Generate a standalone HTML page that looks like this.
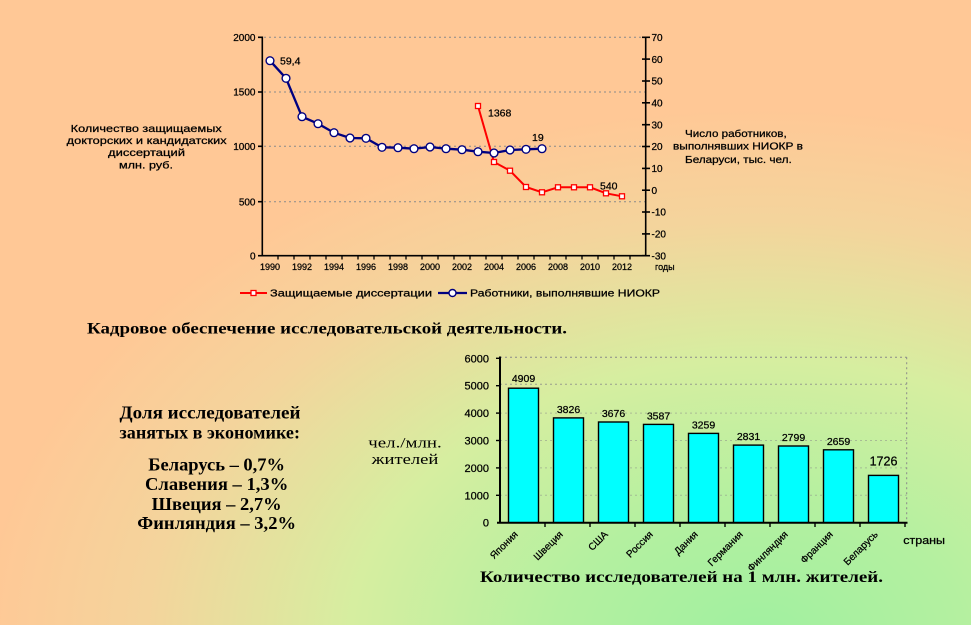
<!DOCTYPE html>
<html>
<head>
<meta charset="utf-8">
<style>
html,body{margin:0;padding:0;}
body{width:971px;height:625px;overflow:hidden;
background:#ffc896;}
#bg{position:absolute;left:0;top:0;width:971px;height:625px;
background:
radial-gradient(ellipse 820px 560px at 760px 640px, #a0f0a0 0%, #b4f0a0 25%, #d6eea0 50%, #f4d49c 75%, rgba(255,200,150,0) 95%),
#ffc896;}
svg{position:absolute;left:0;top:0;}
text{font-family:"Liberation Sans","Noto Sans CJK SC",sans-serif;fill:#000;}
.sans{stroke:#000;stroke-width:0.25;}
.serif{font-family:"Liberation Serif","Noto Serif CJK SC",serif;}
</style>
</head>
<body>
<div id="bg"></div>
<svg width="971" height="625" viewBox="0 0 971 625" xmlns="http://www.w3.org/2000/svg">
<!-- ===== TOP CHART ===== -->
<g stroke="#8a8a8a" stroke-width="1" stroke-dasharray="2,3">
  <line x1="264" y1="37.3" x2="645" y2="37.3"/>
  <line x1="264" y1="92" x2="645" y2="92"/>
  <line x1="264" y1="146.3" x2="645" y2="146.3"/>
  <line x1="264" y1="201.7" x2="645" y2="201.7"/>
</g>
<g stroke="#000" stroke-width="1.6" fill="none">
  <line x1="262.3" y1="36.5" x2="262.3" y2="256.5"/>
  <line x1="645.7" y1="36.5" x2="645.7" y2="256.5"/>
  <line x1="261.5" y1="255.7" x2="646.5" y2="255.7"/>
  <line x1="258" y1="37.3" x2="262" y2="37.3"/>
  <line x1="258" y1="92" x2="262" y2="92"/>
  <line x1="258" y1="146.3" x2="262" y2="146.3"/>
  <line x1="258" y1="201.7" x2="262" y2="201.7"/>
  <line x1="258" y1="255.7" x2="262" y2="255.7"/>
  <line x1="642" y1="37.3" x2="650" y2="37.3"/>
  <line x1="642" y1="59.1" x2="650" y2="59.1"/>
  <line x1="642" y1="81" x2="650" y2="81"/>
  <line x1="642" y1="102.8" x2="650" y2="102.8"/>
  <line x1="642" y1="124.7" x2="650" y2="124.7"/>
  <line x1="642" y1="146.5" x2="650" y2="146.5"/>
  <line x1="642" y1="168.4" x2="650" y2="168.4"/>
  <line x1="642" y1="190.2" x2="650" y2="190.2"/>
  <line x1="642" y1="212" x2="650" y2="212"/>
  <line x1="642" y1="233.9" x2="650" y2="233.9"/>
  <line x1="642" y1="255.7" x2="650" y2="255.7"/>
</g>
<g stroke="#000" stroke-width="1.3">
  <line x1="278" y1="256" x2="278" y2="259.5"/><line x1="294" y1="256" x2="294" y2="259.5"/>
  <line x1="310" y1="256" x2="310" y2="259.5"/><line x1="326" y1="256" x2="326" y2="259.5"/>
  <line x1="342" y1="256" x2="342" y2="259.5"/><line x1="358" y1="256" x2="358" y2="259.5"/>
  <line x1="374" y1="256" x2="374" y2="259.5"/><line x1="390" y1="256" x2="390" y2="259.5"/>
  <line x1="406" y1="256" x2="406" y2="259.5"/><line x1="422" y1="256" x2="422" y2="259.5"/>
  <line x1="438" y1="256" x2="438" y2="259.5"/><line x1="454" y1="256" x2="454" y2="259.5"/>
  <line x1="470" y1="256" x2="470" y2="259.5"/><line x1="486" y1="256" x2="486" y2="259.5"/>
  <line x1="502" y1="256" x2="502" y2="259.5"/><line x1="518" y1="256" x2="518" y2="259.5"/>
  <line x1="534" y1="256" x2="534" y2="259.5"/><line x1="550" y1="256" x2="550" y2="259.5"/>
  <line x1="566" y1="256" x2="566" y2="259.5"/><line x1="582" y1="256" x2="582" y2="259.5"/>
  <line x1="598" y1="256" x2="598" y2="259.5"/><line x1="614" y1="256" x2="614" y2="259.5"/>
  <line x1="630" y1="256" x2="630" y2="259.5"/>
</g>
<g class="sans" font-size="10" text-anchor="end">
  <text x="255.5" y="41">2000</text>
  <text x="255.5" y="95.7">1500</text>
  <text x="255.5" y="150">1000</text>
  <text x="255.5" y="205.4">500</text>
  <text x="255.5" y="259.4">0</text>
</g>
<g class="sans" font-size="10">
  <text x="651.5" y="41">70</text>
  <text x="651.5" y="62.8">60</text>
  <text x="651.5" y="84.7">50</text>
  <text x="651.5" y="106.5">40</text>
  <text x="651.5" y="128.4">30</text>
  <text x="651.5" y="150.2">20</text>
  <text x="651.5" y="172.1">10</text>
  <text x="651.5" y="193.9">0</text>
  <text x="651.5" y="215.7">-10</text>
  <text x="651.5" y="237.6">-20</text>
  <text x="651.5" y="259.4">-30</text>
</g>
<g class="sans" font-size="9" text-anchor="middle">
  <text x="270" y="270">1990</text><text x="302" y="270">1992</text>
  <text x="334" y="270">1994</text><text x="366" y="270">1996</text>
  <text x="398" y="270">1998</text><text x="430" y="270">2000</text>
  <text x="462" y="270">2002</text><text x="494" y="270">2004</text>
  <text x="526" y="270">2006</text><text x="558" y="270">2008</text>
  <text x="590" y="270">2010</text><text x="622" y="270">2012</text>
</g>
<text class="sans" x="655" y="270" font-size="9">годы</text>

<polyline fill="none" stroke="#ff0000" stroke-width="2" points="478,106 494,162 510,170.7 526,187 542,192.3 558,187.3 574,187.3 590,187.3 606,193.3 622,196.3"/>
<g fill="#fff" stroke="#ff0000" stroke-width="1.3">
  <rect x="475.5" y="103.5" width="5" height="5"/>
  <rect x="491.5" y="159.5" width="5" height="5"/>
  <rect x="507.5" y="168.2" width="5" height="5"/>
  <rect x="523.5" y="184.5" width="5" height="5"/>
  <rect x="539.5" y="189.8" width="5" height="5"/>
  <rect x="555.5" y="184.8" width="5" height="5"/>
  <rect x="571.5" y="184.8" width="5" height="5"/>
  <rect x="587.5" y="184.8" width="5" height="5"/>
  <rect x="603.5" y="190.8" width="5" height="5"/>
  <rect x="619.5" y="193.8" width="5" height="5"/>
</g>
<polyline fill="none" stroke="#000080" stroke-width="2.3" points="270,60.7 286,78.3 302,116.7 318,123.7 334,132.7 350,138 366,138.3 382,147.3 398,147.7 414,148.7 430,147 446,148.7 462,149.7 478,151.7 494,153 510,150 526,149.3 542,148.7"/>
<g fill="#fff" stroke="#000080" stroke-width="1.4">
  <circle cx="270" cy="60.7" r="3.9"/><circle cx="286" cy="78.3" r="3.9"/>
  <circle cx="302" cy="116.7" r="3.9"/><circle cx="318" cy="123.7" r="3.9"/>
  <circle cx="334" cy="132.7" r="3.9"/><circle cx="350" cy="138" r="3.9"/>
  <circle cx="366" cy="138.3" r="3.9"/><circle cx="382" cy="147.3" r="3.9"/>
  <circle cx="398" cy="147.7" r="3.9"/><circle cx="414" cy="148.7" r="3.9"/>
  <circle cx="430" cy="147" r="3.9"/><circle cx="446" cy="148.7" r="3.9"/>
  <circle cx="462" cy="149.7" r="3.9"/><circle cx="478" cy="151.7" r="3.9"/>
  <circle cx="494" cy="153" r="3.9"/><circle cx="510" cy="150" r="3.9"/>
  <circle cx="526" cy="149.3" r="3.9"/><circle cx="542" cy="148.7" r="3.9"/>
</g>
<g class="sans" font-size="10.5">
  <text x="280" y="64.5">59,4</text>
  <text x="488" y="116.5">1368</text>
  <text x="532" y="141">19</text>
  <text x="600" y="189.5">540</text>
</g>
<g class="sans" font-size="10">
  <text x="70.7" y="132" textLength="151" lengthAdjust="spacingAndGlyphs">Количество защищаемых</text>
  <text x="66.7" y="144" textLength="160" lengthAdjust="spacingAndGlyphs">докторских  и кандидатских</text>
  <text x="108" y="156" textLength="77" lengthAdjust="spacingAndGlyphs">диссертаций</text>
  <text x="119" y="168.5" textLength="54" lengthAdjust="spacingAndGlyphs">млн. руб.</text>
  <text x="685" y="137" textLength="101.7" lengthAdjust="spacingAndGlyphs">Число работников,</text>
  <text x="673" y="149.5" textLength="130" lengthAdjust="spacingAndGlyphs">выполнявших НИОКР в</text>
  <text x="685" y="163" textLength="106.7" lengthAdjust="spacingAndGlyphs">Беларуси, тыс. чел.</text>
</g>
<line x1="240" y1="293" x2="267" y2="293" stroke="#ff0000" stroke-width="2"/>
<rect x="251" y="290.5" width="5" height="5" fill="#fff" stroke="#ff0000" stroke-width="1.3"/>
<text class="sans" x="270" y="296.5" font-size="10" textLength="162" lengthAdjust="spacingAndGlyphs">Защищаемые диссертации</text>
<line x1="438" y1="293" x2="467" y2="293" stroke="#000080" stroke-width="2.3"/>
<circle cx="452.5" cy="293" r="3.5" fill="#fff" stroke="#000080" stroke-width="1.4"/>
<text class="sans" x="470" y="296.5" font-size="10" textLength="190" lengthAdjust="spacingAndGlyphs">Работники,  выполнявшие НИОКР</text>

<text class="serif" x="87" y="333.5" font-size="16" font-weight="bold" textLength="480" lengthAdjust="spacingAndGlyphs">Кадровое обеспечение исследовательской деятельности.</text>

<g font-weight="bold" font-size="18">
  <text class="serif" x="119.5" y="418.5" textLength="181" lengthAdjust="spacingAndGlyphs">Доля исследователей</text>
  <text class="serif" x="119.5" y="438.5" textLength="180.5" lengthAdjust="spacingAndGlyphs">занятых в экономике:</text>
  <text class="serif" x="148.3" y="470.5" textLength="136.7" lengthAdjust="spacingAndGlyphs">Беларусь – 0,7%</text>
  <text class="serif" x="145" y="490" textLength="143.3" lengthAdjust="spacingAndGlyphs">Славения – 1,3%</text>
  <text class="serif" x="151.7" y="510" textLength="130" lengthAdjust="spacingAndGlyphs">Швеция – 2,7%</text>
  <text class="serif" x="137.3" y="529" textLength="158.7" lengthAdjust="spacingAndGlyphs">Финляндия – 3,2%</text>
</g>
<text class="serif" x="368.3" y="447.5" font-size="15" textLength="73.4" lengthAdjust="spacingAndGlyphs">чел./млн.</text>
<text class="serif" x="371.7" y="464" font-size="15" textLength="66.6" lengthAdjust="spacingAndGlyphs">жителей</text>

<!-- ===== BOTTOM CHART ===== -->
<g stroke="#8a8a8a" stroke-width="1" stroke-dasharray="2,3">
  <line x1="500" y1="357.3" x2="906.7" y2="357.3"/>
  <line x1="906.7" y1="357.3" x2="906.7" y2="522.7"/>
  <line x1="500" y1="384.3" x2="906.7" y2="384.3" opacity="0.8"/>
  <line x1="500" y1="413.1" x2="906.7" y2="413.1" opacity="0.5"/>
  <line x1="500" y1="440.5" x2="906.7" y2="440.5" opacity="0.5"/>
  <line x1="500" y1="467.9" x2="906.7" y2="467.9" opacity="0.5"/>
  <line x1="500" y1="495.3" x2="906.7" y2="495.3" opacity="0.5"/>
</g>
<g fill="#00ffff" stroke="#000" stroke-width="1.4">
  <rect x="508.5" y="388.2" width="30" height="134.5"/>
  <rect x="553.5" y="417.9" width="30" height="104.8"/>
  <rect x="598.5" y="422" width="30" height="100.7"/>
  <rect x="643.5" y="424.4" width="30" height="98.3"/>
  <rect x="688.5" y="433.4" width="30" height="89.3"/>
  <rect x="733.5" y="445.1" width="30" height="77.6"/>
  <rect x="778.5" y="446" width="30" height="76.7"/>
  <rect x="823.5" y="449.8" width="30" height="72.9"/>
  <rect x="868.5" y="475.4" width="30" height="47.3"/>
</g>
<g stroke="#000" stroke-width="2" fill="none">
  <line x1="500" y1="356.5" x2="500" y2="523.5"/>
  <line x1="497" y1="522.7" x2="907.5" y2="522.7"/>
</g>
<g stroke="#000" stroke-width="1.4">
  <line x1="496" y1="358.3" x2="500" y2="358.3"/>
  <line x1="496" y1="385.7" x2="500" y2="385.7"/>
  <line x1="496" y1="413.1" x2="500" y2="413.1"/>
  <line x1="496" y1="440.5" x2="500" y2="440.5"/>
  <line x1="496" y1="467.9" x2="500" y2="467.9"/>
  <line x1="496" y1="495.3" x2="500" y2="495.3"/>
  <line x1="545" y1="523" x2="545" y2="527"/><line x1="590" y1="523" x2="590" y2="527"/>
  <line x1="635" y1="523" x2="635" y2="527"/><line x1="680" y1="523" x2="680" y2="527"/>
  <line x1="725" y1="523" x2="725" y2="527"/><line x1="770" y1="523" x2="770" y2="527"/>
  <line x1="815" y1="523" x2="815" y2="527"/><line x1="860" y1="523" x2="860" y2="527"/>
  <line x1="905" y1="523" x2="905" y2="527"/>
</g>
<g class="sans" font-size="11" text-anchor="end">
  <text x="489" y="362.3">6000</text>
  <text x="489" y="389.7">5000</text>
  <text x="489" y="417.1">4000</text>
  <text x="489" y="444.5">3000</text>
  <text x="489" y="471.9">2000</text>
  <text x="489" y="499.3">1000</text>
  <text x="489" y="526.7">0</text>
</g>
<g class="sans" font-size="10.5" text-anchor="middle">
  <text x="523.5" y="382.2">4909</text>
  <text x="568.5" y="412.9">3826</text>
  <text x="613.5" y="417">3676</text>
  <text x="658.5" y="419.4">3587</text>
  <text x="703.5" y="428.4">3259</text>
  <text x="748.5" y="440.1">2831</text>
  <text x="793.5" y="441">2799</text>
  <text x="838.5" y="444.8">2659</text>
  <text x="883.5" y="465.5" font-size="12.5">1726</text>
</g>
<g class="sans" font-size="10" text-anchor="end">
  <text transform="translate(518.5,535) rotate(-45)">Япония</text>
  <text transform="translate(563.5,535) rotate(-45)">Швеция</text>
  <text transform="translate(608.5,535) rotate(-45)">США</text>
  <text transform="translate(653.5,535) rotate(-45)">Россия</text>
  <text transform="translate(698.5,535) rotate(-45)">Дания</text>
  <text transform="translate(743.5,535) rotate(-45)">Германия</text>
  <text transform="translate(788.5,535) rotate(-45)">Финляндия</text>
  <text transform="translate(833.5,535) rotate(-45)">Франция</text>
  <text transform="translate(878.5,535) rotate(-45)">Беларусь</text>
</g>
<text class="sans" x="903.3" y="544" font-size="11" textLength="41.7" lengthAdjust="spacingAndGlyphs">страны</text>

<text class="serif" x="480" y="582" font-size="16" font-weight="bold" textLength="403" lengthAdjust="spacingAndGlyphs">Количество исследователей на 1 млн. жителей.</text>
</svg>
</body>
</html>
